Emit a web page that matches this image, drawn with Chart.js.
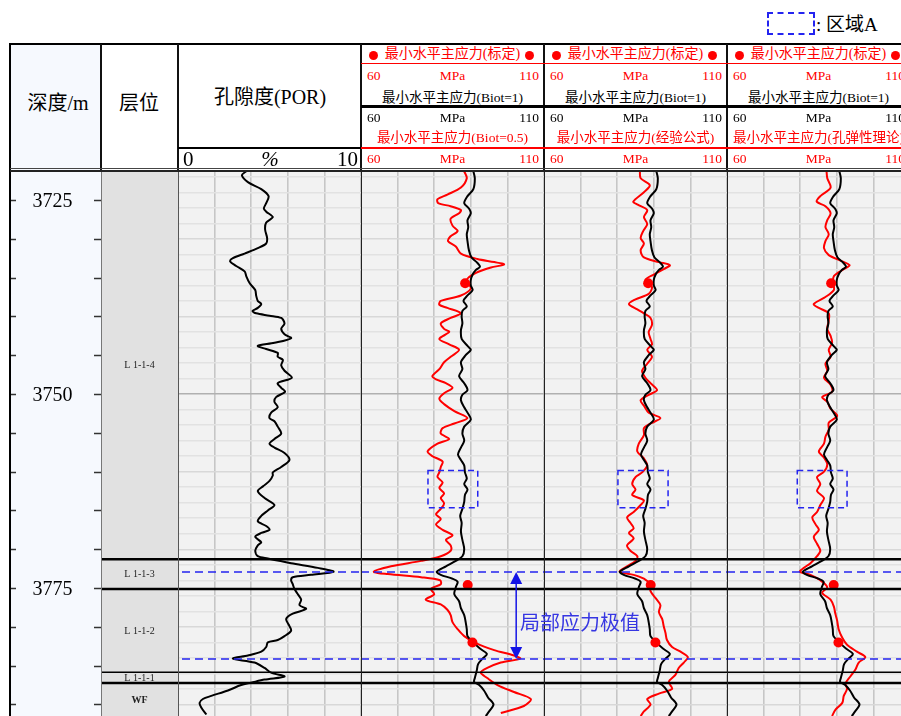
<!DOCTYPE html>
<html lang="zh">
<head>
<meta charset="utf-8">
<title>最小水平主应力剖面</title>
<script src="https://cdn.jsdelivr.net/npm/chart.js@4.4.1/dist/chart.umd.min.js"></script>
<style>
  html, body { margin: 0; padding: 0; }
  body {
    width: 901px; height: 716px; overflow: hidden; position: relative; background: #fff;
    font-family: "Liberation Serif", "Noto Sans CJK SC", serif; color: #000;
  }
  canvas { position: absolute; top: 171px; }
  .lbl { position: absolute; white-space: nowrap; line-height: 1; }
  .rule { position: absolute; }
  .dot { position: absolute; width: 9px; height: 9px; border-radius: 50%; background: #ff0000; }
</style>
</head>
<body>
<canvas id="depthCol" width="91" height="545" style="left:10px;background:#f6f9fe"></canvas>
<canvas id="layerCol" width="77" height="545" style="left:101px;background:#e1e1e1"></canvas>
<canvas id="porTrack" width="183" height="545" style="left:178px;background:#f2f2f2"></canvas>
<canvas id="track0" width="183" height="545" style="left:361px;background:#f2f2f2"></canvas>
<canvas id="track1" width="183" height="545" style="left:544px;background:#f2f2f2"></canvas>
<canvas id="track2" width="183" height="545" style="left:727px;background:#f2f2f2"></canvas>
<script>
// depth window shown in the log (m)
const depthMin = 3721.26;
const depthMax = 3791.49;
const depthLabels = [3725, 3750, 3775];

// layers, top to bottom, and the depths that separate them
const layerNames = ['L 1-1-4', 'L 1-1-3', 'L 1-1-2', 'L 1-1-1', 'WF'];
const layerBases = [3771.30, 3775.13, 3785.86, 3787.24];

// depths of the local stress extremes
const extremeDepths = [3772.94, 3784.15];

// porosity, %
const porDepth = [
  3721.3, 3721.8, 3722.7, 3723.6, 3724.5, 3725.4, 3726.1, 3726.5, 3727.2, 3727.9,
  3728.8, 3729.9, 3730.6, 3731.2, 3731.9, 3732.5, 3732.9, 3733.5, 3734.2, 3734.8,
  3735.7, 3736.6, 3737.3, 3738.0, 3738.4, 3738.9, 3739.3, 3739.6, 3739.9, 3740.2,
  3740.9, 3741.6, 3742.3, 3742.8, 3743.4, 3743.8, 3744.2, 3744.7, 3745.2, 3745.6,
  3746.3, 3747.0, 3747.9, 3748.6, 3749.2, 3749.7, 3750.4, 3751.0, 3751.7, 3752.4,
  3753.1, 3753.5, 3754.2, 3755.1, 3755.8, 3756.4, 3756.9, 3757.6, 3758.5, 3759.4,
  3760.1, 3760.5, 3761.2, 3761.9, 3762.5, 3763.4, 3764.3, 3765.0, 3765.7, 3766.4,
  3767.0, 3767.5, 3767.9, 3768.4, 3769.1, 3769.5, 3770.2, 3770.9, 3771.2, 3771.8,
  3772.4, 3772.9, 3773.3, 3773.6, 3774.0, 3774.5, 3775.1, 3775.8, 3776.5, 3777.2,
  3777.7, 3778.3, 3779.0, 3779.9, 3780.5, 3781.2, 3781.7, 3782.0, 3782.6, 3783.2,
  3783.7, 3784.1, 3784.6, 3785.3, 3785.9, 3786.4, 3786.8, 3787.2, 3787.5, 3788.2,
  3788.9, 3789.3, 3789.8, 3790.4, 3791.3
];
const porValue = [
  3.73, 3.49, 3.82, 4.55, 4.95, 4.82, 4.69, 4.82, 5.18, 4.82,
  4.76, 4.87, 4.82, 4.36, 3.64, 3.00, 2.85, 3.18, 3.64, 3.73,
  3.91, 4.22, 4.27, 4.36, 4.55, 4.36, 4.07, 4.27, 5.00, 5.64,
  5.82, 5.64, 5.82, 6.18, 5.27, 4.36, 4.82, 5.45, 5.45, 5.73,
  5.64, 5.82, 6.22, 5.45, 5.64, 5.85, 5.36, 5.27, 5.45, 5.09,
  5.00, 5.27, 5.45, 5.64, 5.27, 5.00, 5.27, 5.82, 6.09, 5.64,
  5.18, 5.18, 5.00, 4.64, 4.36, 4.73, 5.27, 4.91, 4.55, 4.36,
  4.82, 5.00, 4.55, 4.22, 4.55, 4.36, 4.22, 4.36, 4.91, 6.18,
  7.64, 8.50, 7.27, 6.27, 6.18, 6.27, 6.36, 6.55, 6.73, 6.64,
  7.00, 6.27, 5.91, 6.09, 6.18, 5.82, 5.45, 4.91, 4.82, 4.55,
  3.82, 3.00, 4.18, 4.73, 5.09, 5.82, 4.73, 4.00, 3.45, 2.73,
  1.82, 1.36, 1.18, 1.27, 1.55
];

// minimum horizontal stress, Biot = 1 (MPa)
const biot1Depth = [
  3721.3, 3722.2, 3723.6, 3724.5, 3725.4, 3726.1, 3726.7, 3727.6, 3728.5, 3729.4,
  3730.3, 3731.5, 3732.4, 3733.0, 3733.6, 3734.0, 3734.6, 3735.3, 3736.0, 3736.6,
  3737.3, 3738.0, 3738.7, 3739.3, 3740.0, 3740.9, 3741.8, 3742.9, 3743.8, 3744.3,
  3745.0, 3745.9, 3746.8, 3747.7, 3748.6, 3749.5, 3750.1, 3750.8, 3751.7, 3752.4,
  3753.3, 3754.2, 3755.1, 3756.0, 3756.9, 3757.8, 3758.5, 3759.2, 3760.1, 3760.9,
  3761.6, 3762.3, 3763.0, 3763.9, 3764.8, 3765.7, 3766.6, 3767.7, 3768.8, 3770.0,
  3770.9, 3771.5, 3772.2, 3772.9, 3773.3, 3773.8, 3774.2, 3774.9, 3775.8, 3776.7,
  3777.6, 3778.5, 3779.4, 3780.3, 3781.2, 3782.1, 3782.8, 3783.5, 3784.1, 3784.8,
  3785.7, 3786.6, 3787.1, 3787.5, 3788.2, 3789.1, 3790.0, 3790.9, 3791.5
];
const biot1 = [
  90.7, 91.1, 90.7, 89.1, 88.2, 89.5, 90.0, 89.1, 89.3, 88.9,
  89.1, 89.5, 90.2, 91.6, 92.5, 91.4, 90.5, 90.0, 90.0, 90.5,
  89.1, 88.0, 88.9, 87.7, 87.5, 87.7, 87.3, 87.5, 89.1, 90.0,
  88.6, 87.3, 87.7, 86.8, 88.2, 89.1, 87.7, 87.3, 88.2, 89.1,
  90.0, 88.2, 87.7, 88.2, 87.3, 86.5, 87.3, 88.2, 88.4, 88.9,
  88.2, 89.1, 88.4, 88.2, 87.7, 87.1, 87.5, 87.3, 87.7, 88.2,
  87.7, 85.9, 83.2, 80.7, 81.8, 85.0, 86.4, 85.9, 85.5, 86.8,
  87.3, 88.2, 88.6, 88.9, 89.1, 90.9, 92.5, 94.4, 93.2, 92.0,
  91.6, 91.1, 90.9, 92.3, 93.6, 94.7, 96.2, 95.0, 94.1
];

// minimum horizontal stress, Biot = 0.5 (MPa)
const biot05Depth = [
  3721.3, 3722.2, 3723.4, 3724.3, 3724.9, 3725.4, 3725.8, 3726.3, 3726.7, 3727.4,
  3728.3, 3729.0, 3729.7, 3730.3, 3731.0, 3731.9, 3732.6, 3733.0, 3733.3, 3733.7,
  3734.4, 3735.3, 3736.4, 3737.3, 3738.0, 3738.5, 3738.9, 3739.6, 3740.2, 3740.9,
  3741.6, 3742.0, 3742.9, 3743.6, 3744.3, 3745.2, 3745.9, 3746.8, 3747.7, 3748.1,
  3748.6, 3749.2, 3749.9, 3750.6, 3751.3, 3752.2, 3753.1, 3753.8, 3754.4, 3755.1,
  3755.8, 3756.4, 3757.4, 3758.0, 3758.7, 3759.4, 3760.1, 3760.7, 3761.4, 3762.1,
  3762.8, 3763.4, 3764.1, 3764.8, 3765.5, 3766.1, 3766.8, 3767.5, 3768.2, 3768.8,
  3769.5, 3770.2, 3770.9, 3771.5, 3772.2, 3772.9, 3773.2, 3773.6, 3774.0, 3774.5,
  3775.1, 3775.8, 3776.5, 3777.1, 3777.8, 3778.5, 3779.4, 3780.3, 3781.2, 3782.1,
  3783.0, 3783.7, 3784.1, 3784.6, 3785.3, 3785.9, 3786.6, 3787.5, 3788.4, 3789.3,
  3790.2, 3791.1
];
const biot05 = [
  88.2, 88.9, 87.3, 83.6, 80.9, 81.1, 84.5, 87.3, 86.8, 84.5,
  85.0, 86.4, 84.4, 83.8, 85.9, 87.3, 91.8, 96.4, 99.1, 95.5,
  91.4, 88.9, 90.0, 87.3, 81.8, 81.4, 83.6, 87.3, 84.5, 81.8,
  82.7, 84.1, 81.4, 84.1, 86.8, 84.5, 82.7, 81.4, 79.5, 80.5,
  83.2, 85.0, 82.7, 81.4, 82.7, 85.5, 89.1, 85.5, 82.3, 81.8,
  84.1, 80.9, 78.2, 79.5, 82.3, 81.8, 81.4, 80.9, 82.3, 81.4,
  82.7, 81.8, 82.7, 81.8, 80.5, 81.8, 80.5, 82.3, 85.0, 83.2,
  84.5, 84.5, 81.8, 76.4, 68.2, 63.5, 67.3, 76.4, 81.6, 81.8,
  79.1, 80.0, 77.7, 81.8, 83.6, 84.5, 85.0, 86.4, 88.2, 91.4,
  96.4, 101.8, 103.5, 98.2, 94.5, 92.7, 94.5, 97.3, 101.8, 106.4,
  104.5, 98.2
];

// minimum horizontal stress, empirical formula (MPa)
const empiricalDepth = [
  3721.3, 3722.2, 3723.1, 3724.0, 3725.2, 3725.6, 3726.3, 3727.2, 3728.1, 3729.0,
  3729.9, 3730.6, 3731.5, 3732.4, 3733.0, 3733.4, 3733.9, 3734.6, 3735.3, 3736.2,
  3737.1, 3737.8, 3738.4, 3739.1, 3739.6, 3740.2, 3741.1, 3742.0, 3742.9, 3743.6,
  3744.3, 3745.2, 3746.1, 3747.0, 3747.9, 3748.6, 3749.5, 3750.1, 3750.8, 3751.5,
  3752.4, 3753.1, 3753.8, 3754.4, 3755.3, 3756.4, 3757.4, 3758.3, 3759.2, 3760.1,
  3760.7, 3761.6, 3762.3, 3763.0, 3763.7, 3764.3, 3765.2, 3765.9, 3766.6, 3767.3,
  3767.9, 3768.6, 3769.5, 3770.2, 3770.9, 3771.5, 3772.2, 3772.9, 3773.3, 3773.8,
  3774.5, 3775.4, 3776.3, 3777.2, 3778.1, 3779.0, 3779.9, 3780.8, 3781.7, 3782.6,
  3783.2, 3783.9, 3784.6, 3785.3, 3786.2, 3787.1, 3788.0, 3788.6, 3789.3, 3790.0,
  3790.9, 3791.5
];
const empirical = [
  86.2, 86.4, 88.9, 87.3, 84.4, 85.6, 88.2, 87.3, 88.2, 87.1,
  86.4, 87.3, 86.4, 87.3, 91.4, 94.4, 92.7, 90.0, 87.7, 89.5,
  88.6, 85.0, 83.2, 85.5, 87.3, 89.1, 89.5, 88.6, 89.1, 89.5,
  88.2, 89.5, 88.2, 86.8, 87.7, 89.1, 90.9, 88.6, 86.4, 87.3,
  88.6, 91.8, 89.1, 87.3, 87.3, 85.9, 85.5, 87.3, 88.2, 86.8,
  85.0, 84.1, 85.0, 84.1, 87.3, 86.4, 84.5, 82.7, 83.6, 84.5,
  83.2, 84.5, 82.7, 83.6, 85.5, 85.0, 82.7, 80.7, 84.5, 87.3,
  88.9, 89.1, 90.5, 91.8, 91.4, 92.3, 92.7, 93.2, 93.6, 95.0,
  97.3, 99.3, 98.2, 96.8, 95.9, 94.1, 95.0, 91.4, 88.2, 89.1,
  87.3, 86.4
];

// minimum horizontal stress, poroelastic theory (MPa)
const poroDepth = [
  3721.3, 3722.2, 3723.4, 3724.5, 3725.2, 3725.8, 3726.7, 3727.6, 3728.5, 3729.4,
  3730.3, 3731.2, 3732.1, 3732.8, 3733.4, 3733.9, 3734.8, 3735.7, 3736.6, 3737.5,
  3738.4, 3738.9, 3739.6, 3740.5, 3741.6, 3742.5, 3743.4, 3744.3, 3745.2, 3746.1,
  3747.0, 3747.9, 3748.8, 3749.7, 3750.4, 3751.0, 3751.9, 3752.8, 3753.7, 3754.6,
  3755.5, 3756.4, 3757.4, 3758.2, 3759.1, 3760.0, 3760.7, 3761.6, 3762.5, 3763.4,
  3764.3, 3765.2, 3765.9, 3766.8, 3767.5, 3768.4, 3769.3, 3770.2, 3770.9, 3771.8,
  3772.4, 3772.9, 3773.3, 3774.0, 3774.9, 3775.6, 3776.5, 3777.4, 3778.3, 3779.2,
  3780.3, 3781.4, 3782.3, 3783.2, 3783.9, 3784.6, 3785.5, 3786.4, 3787.3, 3788.0,
  3788.9, 3789.8, 3790.7, 3791.5
];
const poroelastic = [
  87.2, 87.4, 88.3, 85.5, 84.5, 86.9, 88.3, 87.4, 86.9, 87.8,
  86.9, 86.5, 87.8, 91.0, 93.5, 91.9, 89.2, 89.0, 89.2, 86.9,
  83.7, 85.1, 87.8, 87.8, 87.4, 88.3, 88.7, 87.8, 88.3, 86.9,
  87.4, 86.5, 88.3, 88.7, 86.0, 87.4, 88.3, 90.1, 87.8, 87.8,
  86.9, 86.5, 85.1, 86.5, 87.4, 86.5, 84.6, 85.5, 84.6, 86.5,
  85.5, 84.6, 83.3, 84.2, 85.1, 83.7, 84.6, 85.5, 84.6, 82.8,
  81.0, 79.9, 82.8, 85.5, 87.4, 86.0, 88.3, 89.2, 89.6, 90.1,
  90.5, 91.5, 92.8, 95.5, 97.8, 96.0, 95.1, 93.7, 92.4, 92.8,
  91.9, 91.5, 89.6, 88.7
];

// calibrated stress points
const calibDepth = [3735.73, 3774.62, 3782.03];
const calibValue = [88.45, 89.15, 90.45];

// zone A window in each stress track
const zoneTop = 3759.85;
const zoneBase = 3764.65;
const zoneLow = [78.3, 80.2, 79.2];
const zoneHigh = [91.9, 93.9, 92.8];
const arrowValue = 102.4;

const porRange = [0, 10];
const stressRange = [60, 110];
const stressTitle = '最小水平主应力(标定)';
const biot1Title = '最小水平主应力(Biot=1)';
const stressNames = ['最小水平主应力(Biot=0.5)', '最小水平主应力(经验公式)', '最小水平主应力(孔弹性理论)'];
const stressCurves = [[biot05Depth, biot05], [empiricalDepth, empirical], [poroDepth, poroelastic]];

// ---- layout / styling ----
const RED = '#ff0000';
const BLUE = '#2424f0';
const trackLeft = [361, 544, 727];
const trackWidth = 183;
const boundaryWidths = [2.5, 2.5, 1.5, 2.5];

const body = document.body;

function rule(x, y, w, h, color) {
  const el = document.createElement('div');
  el.className = 'rule';
  Object.assign(el.style, { left: x + 'px', top: y + 'px', width: w + 'px', height: h + 'px', background: color });
  body.appendChild(el);
  return el;
}

function text(str, x, y, size, color, align, extra) {
  const el = document.createElement('div');
  el.className = 'lbl';
  el.textContent = str;
  const tx = align === 'left' ? '0' : align === 'right' ? '-100%' : '-50%';
  Object.assign(el.style, {
    left: x + 'px', top: y + 'px', fontSize: size + 'px', color: color || '#000',
    transform: `translate(${tx},-50%)`
  }, extra || {});
  body.appendChild(el);
  return el;
}

function dot(cx, cy) {
  const el = document.createElement('div');
  el.className = 'dot';
  el.style.left = (cx - 4.5) + 'px';
  el.style.top = (cy - 4.5) + 'px';
  body.appendChild(el);
}

function scaleRow(left, y, range, unit, color, size) {
  text(String(range[0]), left + 6, y, size, color, 'left');
  text(unit, left + trackWidth / 2, y, size, color);
  text(String(range[1]), left + trackWidth - 5, y, size, color, 'right');
}

// header background and frame
rule(10, 44, 91, 127, '#f6f9fe');
rule(10, 43, 891, 2, '#000');
rule(9, 43, 2, 673, '#000');
[101, 178, 361, 544, 727].forEach(x => rule(x - 0.75, 44, 1.5, 127, '#111'));
rule(100.5, 171, 1, 545, '#777');
rule(177.5, 171, 1, 545, '#555');
trackLeft.forEach(x => rule(x - 0.5, 171, 1.2, 545, '#222'));
rule(10, 167.5, 891, 1, '#444');
rule(10, 170, 891, 1.5, '#222');

// header texts
text('深度/m', 58, 103, 20);
text('层位', 139, 103, 20);
text('孔隙度(POR)', 270, 97, 20);
rule(178, 146.5, 183, 2.5, '#000');
text(String(porRange[0]), 183, 159, 21, '#000', 'left');
text('%', 270, 159, 21, '#000', 'center', { fontStyle: 'italic' });
text(String(porRange[1]), 358, 159, 21, '#000', 'right');

trackLeft.forEach((left, i) => {
  const mid = left + trackWidth / 2;
  dot(left + 12, 55);
  text(stressTitle, mid, 54, 14, RED);
  dot(left + 168, 55);
  rule(left, 62.5, trackWidth, 1, RED);
  scaleRow(left, 75.5, stressRange, 'MPa', RED, 13.5);
  text(biot1Title, mid, 97.5, 13.5, '#000');
  rule(left, 105, trackWidth, 2.5, '#000');
  scaleRow(left, 117.5, stressRange, 'MPa', '#000', 13.5);
  text(stressNames[i], mid, 137.5, 13.5, RED);
  rule(left, 147, trackWidth, 2, RED);
  scaleRow(left, 159, stressRange, 'MPa', RED, 13.5);
});

// legend for the dashed zone boxes
const legendBox = rule(767, 12, 48, 23, 'transparent');
legendBox.style.border = '2px dashed ' + BLUE;
legendBox.style.boxSizing = 'border-box';
text(': 区域A', 816, 24, 19, '#000', 'left');

// ---- charts ----
const gridDepths = [];
for (let d = Math.ceil(depthMin / 2) * 2; d <= depthMax; d += 2) gridDepths.push(d);

function depthAxis(visible) {
  return {
    type: 'linear', reverse: true, min: depthMin, max: depthMax, display: visible,
    afterBuildTicks: scale => { scale.ticks = gridDepths.map(v => ({ value: v })); },
    ticks: { display: false },
    border: { display: false },
    grid: {
      drawTicks: false,
      lineWidth: 1.4,
      color: c => c.tick.value % 50 === 0 ? '#b0b0b0' : (c.tick.value % 10 === 0 ? '#d8d8d8' : '#e2e2e2')
    }
  };
}

function valueAxis(range, visible) {
  return {
    type: 'linear', position: 'bottom', min: range[0], max: range[1], display: visible,
    ticks: { display: false, stepSize: (range[1] - range[0]) / 5 },
    border: { display: false },
    grid: { drawTicks: false, color: '#c6c6c6', lineWidth: 1.6 }
  };
}

function chartOptions(xAxis, gridOn) {
  return {
    responsive: false,
    animation: false,
    events: [],
    layout: { padding: 0, autoPadding: false },
    plugins: { legend: { display: false }, tooltip: { enabled: false } },
    scales: { x: xAxis, y: depthAxis(gridOn) }
  };
}

function points(depths, values) {
  return depths.map((d, i) => ({ x: values[i], y: d }));
}

function curve(depths, values, color, order) {
  return {
    data: points(depths, values), showLine: true, borderColor: color, borderWidth: 2,
    pointRadius: 0, tension: 0.3, order
  };
}

function boundaryPlugin(dashInset) {
  return {
    id: 'boundaries',
    afterDatasetsDraw(chart) {
      const { ctx, chartArea: { left, right }, scales: { y } } = chart;
      ctx.save();
      ctx.strokeStyle = '#000';
      layerBases.forEach((d, i) => {
        const py = y.getPixelForValue(d);
        ctx.lineWidth = boundaryWidths[i];
        ctx.beginPath();
        ctx.moveTo(left, py);
        ctx.lineTo(right, py);
        ctx.stroke();
      });
      if (dashInset !== null) {
        ctx.strokeStyle = BLUE;
        ctx.lineWidth = 1.5;
        ctx.setLineDash([8, 5]);
        extremeDepths.forEach(d => {
          const py = y.getPixelForValue(d);
          ctx.beginPath();
          ctx.moveTo(left + dashInset, py);
          ctx.lineTo(right, py);
          ctx.stroke();
        });
      }
      ctx.restore();
    }
  };
}

function zonePlugin(i) {
  return {
    id: 'zoneBox',
    afterDatasetsDraw(chart) {
      const { ctx, scales: { x, y } } = chart;
      const x0 = x.getPixelForValue(zoneLow[i]);
      const x1 = x.getPixelForValue(zoneHigh[i]);
      const y0 = y.getPixelForValue(zoneTop);
      const y1 = y.getPixelForValue(zoneBase);
      ctx.save();
      ctx.strokeStyle = BLUE;
      ctx.lineWidth = 1.5;
      ctx.setLineDash([6, 4]);
      ctx.strokeRect(x0, y0, x1 - x0, y1 - y0);
      ctx.restore();
    }
  };
}

const arrowPlugin = {
  id: 'extremeArrow',
  afterDatasetsDraw(chart) {
    const { ctx, scales: { x, y } } = chart;
    const px = x.getPixelForValue(arrowValue);
    const top = y.getPixelForValue(extremeDepths[0]);
    const bot = y.getPixelForValue(extremeDepths[1]);
    ctx.save();
    ctx.strokeStyle = ctx.fillStyle = '#1414e6';
    ctx.lineWidth = 1.5;
    ctx.beginPath();
    ctx.moveTo(px, top + 10);
    ctx.lineTo(px, bot - 10);
    ctx.stroke();
    [[top, 1], [bot, -1]].forEach(([tip, dir]) => {
      ctx.beginPath();
      ctx.moveTo(px, tip);
      ctx.lineTo(px - 6, tip + dir * 12);
      ctx.lineTo(px + 6, tip + dir * 12);
      ctx.closePath();
      ctx.fill();
    });
    ctx.restore();
  }
};

const depthTickPlugin = {
  id: 'depthTicks',
  afterDraw(chart) {
    const { ctx, chartArea: { left, right }, scales: { y } } = chart;
    ctx.save();
    ctx.strokeStyle = '#333';
    ctx.lineWidth = 1.5;
    for (let d = Math.ceil(depthMin / 5) * 5; d <= depthMax; d += 5) {
      const py = Math.round(y.getPixelForValue(d)) + 0.5;
      ctx.beginPath();
      ctx.moveTo(left, py);
      ctx.lineTo(left + 6, py);
      ctx.moveTo(right - 7, py);
      ctx.lineTo(right, py);
      ctx.stroke();
    }
    ctx.fillStyle = '#000';
    ctx.font = '20px "Liberation Serif"';
    ctx.textAlign = 'center';
    ctx.textBaseline = 'middle';
    depthLabels.forEach(d => ctx.fillText(String(d), left + 42.5, y.getPixelForValue(d) + 2));
    ctx.restore();
  }
};

const layerLabelPlugin = {
  id: 'layerLabels',
  afterDraw(chart) {
    const { ctx, chartArea: { left, right }, scales: { y } } = chart;
    const edges = [depthMin, ...layerBases, depthMax];
    ctx.save();
    ctx.fillStyle = '#222';
    ctx.textAlign = 'center';
    ctx.textBaseline = 'middle';
    layerNames.forEach((name, i) => {
      const mid = (y.getPixelForValue(edges[i]) + y.getPixelForValue(edges[i + 1])) / 2;
      ctx.font = (name === 'WF' ? 'bold ' : '') + '10px "Liberation Serif"';
      ctx.fillText(name, (left + right) / 2, mid + 0.5);
    });
    ctx.restore();
  }
};

// depth column
new Chart(document.getElementById('depthCol'), {
  type: 'scatter',
  data: { datasets: [] },
  options: chartOptions({ type: 'linear', display: false, min: 0, max: 1 }, false),
  plugins: [depthTickPlugin]
});

// layer column
new Chart(document.getElementById('layerCol'), {
  type: 'scatter',
  data: { datasets: [] },
  options: chartOptions({ type: 'linear', display: false, min: 0, max: 1 }, false),
  plugins: [boundaryPlugin(null), layerLabelPlugin]
});

// porosity track
new Chart(document.getElementById('porTrack'), {
  type: 'scatter',
  data: { datasets: [curve(porDepth, porValue, '#000', 0)] },
  options: chartOptions(valueAxis(porRange, true), true),
  plugins: [boundaryPlugin(4)]
});

// stress tracks
trackLeft.forEach((left, i) => {
  const extra = [boundaryPlugin(0), zonePlugin(i)];
  if (i === 0) extra.push(arrowPlugin);
  new Chart(document.getElementById('track' + i), {
    type: 'scatter',
    data: {
      datasets: [
        {
          data: points(calibDepth, calibValue), showLine: false, pointRadius: 5,
          pointBackgroundColor: RED, pointBorderWidth: 0, order: 0
        },
        curve(biot1Depth, biot1, '#000', 1),
        curve(stressCurves[i][0], stressCurves[i][1], RED, 2)
      ]
    },
    options: chartOptions(valueAxis(stressRange, true), true),
    plugins: extra
  });
});

text('局部应力极值', 520, 622, 20, '#3636e2', 'left', { fontFamily: '"Noto Sans CJK SC", sans-serif' });
</script>
</body>
</html>
